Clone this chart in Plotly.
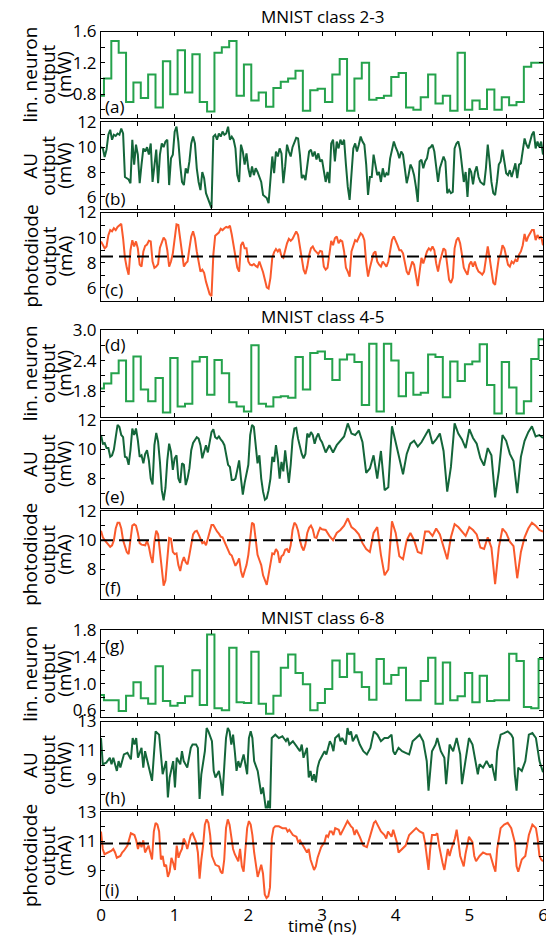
import numpy as np
import plotly.graph_objects as go

# ---------------- data ----------------
# Linear-neuron output: one level per 0.1 ns symbol (first short symbol 0-0.04 ns)
lin_23 = [0.78, 1.0, 1.48, 1.33, 0.7, 0.95, 0.75, 1.05, 0.63, 1.22, 0.8,
          1.36, 0.82, 1.31, 0.7, 0.58, 1.33, 1.4, 1.48, 0.78, 1.18,
          0.72, 0.82, 0.64, 0.88, 0.96, 1.0, 1.1, 0.59, 0.85, 0.87,
          0.7, 1.05, 1.25, 0.59, 1.0, 1.2, 0.73, 0.75, 0.78, 1.02,
          1.07, 0.63, 0.6, 0.76, 1.05, 0.68, 0.78, 0.59, 1.33, 0.6,
          0.72, 0.61, 0.86, 0.6, 0.76, 0.66, 0.7, 1.15, 1.2, 1.2]
lin_45 = [1.85, 1.95, 2.15, 2.4, 1.6, 2.48, 1.83, 1.6, 2.06, 1.38, 2.45,
          1.5, 1.55, 2.38, 2.47, 1.73, 2.41, 2.15, 1.58, 1.5, 1.4,
          2.7, 1.55, 1.5, 1.68, 1.7, 1.67, 2.47, 1.83, 2.55, 2.58,
          2.43, 2.02, 2.42, 2.52, 2.37, 1.53, 2.73, 1.4, 2.73, 2.4,
          1.7, 2.16, 1.73, 1.77, 2.52, 2.47, 1.68, 2.38, 2.0, 2.33,
          2.38, 2.72, 1.92, 1.36, 2.37, 1.87, 1.36, 1.6, 2.43, 2.82]
lin_68 = [0.83, 0.75, 0.75, 0.59, 0.82, 1.02, 0.78, 0.7, 1.26, 0.74, 0.67,
          0.71, 0.81, 1.2, 0.68, 1.74, 0.63, 0.6, 1.54, 0.72, 0.71,
          1.48, 0.7, 0.55, 0.82, 1.24, 1.44, 1.16, 0.99, 0.6, 0.71,
          0.92, 1.35, 1.1, 1.45, 1.17, 0.95, 0.76, 1.37, 1.0, 1.13,
          1.24, 0.75, 0.75, 1.04, 1.39, 0.7, 1.32, 0.75, 0.81, 1.16,
          0.72, 1.12, 0.74, 0.75, 0.75, 1.45, 1.34, 0.65, 0.63, 1.37]

# AU output / photodiode output: samples 0-3 ns ("early") and 3-6 ns ("late")
au_23_early = [10.0, 9.9, 9.2, 9.8, 11.0, 11.4, 10.6, 11.0, 10.9, 11.1,
               11.0, 11.5, 11.1, 7.6, 7.5, 7.4, 7.1, 10.6, 8.6, 10.2,
               9.4, 7.1, 8.6, 9.9, 9.65, 10.0, 9.4, 10.3, 7.2, 8.6,
               9.8, 7.1, 9.4, 10.3, 10.0, 10.45, 10.6, 6.95, 9.1, 9.4,
               11.25, 11.65, 10.45, 8.6, 7.2, 6.95, 8.3, 7.9, 8.85, 10.3,
               10.85, 10.3, 8.3, 7.2, 6.55, 8.0, 7.5, 6.3, 5.9, 5.5,
               5.1, 10.85, 11.0, 10.6, 11.1, 10.85, 11.25, 11.0, 11.1, 11.65,
               10.6, 10.85, 10.6, 9.9, 7.75, 7.2, 10.2, 9.65, 8.6, 9.5,
               8.3, 7.6, 8.45, 7.75, 8.3, 8.0, 7.6, 7.2, 6.15, 6.0,
               5.9, 5.5, 7.2, 9.25, 7.9, 9.65, 9.25, 9.9, 9.5, 7.1,
               8.45, 10.2, 9.65, 9.25, 10.0, 10.45, 10.75, 10.7, 9.4, 7.5,
               7.75, 7.35, 8.6, 9.65, 9.8, 9.25, 9.65, 9.0, 9.5, 8.85]
au_23_late = [9.0, 8.0, 7.2, 8.0, 7.1, 10.3, 10.6, 8.85, 10.45, 9.9,
              10.6, 10.2, 10.6, 8.6, 6.8, 5.75, 7.75, 9.9, 10.3, 9.65,
              10.2, 10.85, 10.45, 10.2, 8.6, 6.15, 7.6, 7.6, 9.4, 8.6,
              7.75, 8.0, 7.2, 8.3, 7.6, 7.9, 7.75, 9.1, 9.9, 10.45,
              10.0, 9.65, 9.1, 9.65, 9.4, 8.15, 7.1, 7.75, 8.6, 8.3,
              7.75, 6.8, 5.6, 8.85, 9.0, 8.3, 8.85, 9.1, 9.9, 10.0,
              10.2, 9.65, 8.15, 7.2, 8.3, 8.85, 9.25, 8.85, 6.3, 6.55,
              6.3, 6.4, 9.9, 10.3, 10.45, 9.8, 8.3, 7.2, 8.0, 6.0,
              8.3, 8.0, 7.0, 8.0, 8.45, 7.6, 7.2, 7.1, 6.95, 8.3,
              10.2, 8.85, 7.2, 6.3, 6.15, 7.2, 8.6, 8.85, 9.8, 8.85,
              7.9, 7.75, 8.15, 7.6, 8.15, 8.7, 7.5, 8.6, 8.7, 9.9,
              10.7, 10.2, 9.9, 10.45, 11.0, 11.25, 9.9, 10.45, 10.0, 10.45,
              9.4]
pd_23_early = [9.7, 9.4, 9.15, 9.3, 10.2, 10.6, 10.5, 10.75, 10.6, 10.85,
               11.0, 11.1, 9.95, 8.4, 7.6, 7.05, 9.0, 9.8, 9.3, 9.7,
               9.15, 7.85, 7.7, 8.9, 9.35, 9.45, 9.75, 9.7, 8.1, 7.6,
               7.7, 7.9, 9.2, 9.55, 10.0, 9.8, 9.0, 7.7, 8.1, 8.75,
               9.95, 11.05, 11.0, 9.95, 8.5, 7.7, 7.95, 8.1, 9.15, 10.1,
               10.5, 9.95, 8.9, 7.95, 7.3, 7.45, 7.2, 6.5, 5.95, 5.5,
               5.35, 8.65, 10.15, 10.3, 10.4, 10.7, 10.6, 10.75, 10.85, 10.8,
               10.95, 10.25, 9.5, 8.5, 7.6, 7.3, 9.4, 9.65, 9.15, 9.15,
               8.1, 7.85, 7.8, 7.9, 7.75, 7.65, 8.1, 7.7, 7.25, 6.65,
               6.05, 5.95, 6.8, 8.4, 8.85, 9.1, 8.9, 9.1, 8.5, 8.4,
               9.0, 9.55, 9.9, 9.75, 9.9, 10.2, 10.5, 10.2, 9.3, 8.1,
               7.45, 7.1, 7.7, 8.6, 9.15, 9.3, 9.0, 8.85, 8.7, 8.95]
pd_23_late = [8.9, 7.7, 7.45, 7.6, 8.65, 9.75, 9.4, 9.95, 10.1, 9.55,
              9.8, 9.7, 8.9, 7.6, 7.3, 6.9, 8.9, 9.4, 9.8, 9.7,
              10.1, 10.35, 10.2, 9.8, 8.0, 6.9, 7.6, 8.1, 8.75, 8.9,
              8.1, 7.85, 7.7, 8.1, 7.85, 7.7, 8.1, 8.9, 9.8, 10.1,
              9.8, 9.4, 9.0, 9.0, 8.75, 8.1, 7.3, 7.05, 7.7, 8.1,
              7.85, 6.8, 6.15, 7.3, 8.4, 7.95, 8.4, 8.9, 9.15, 9.0,
              9.3, 9.0, 7.95, 7.3, 8.1, 8.65, 9.15, 9.0, 7.6, 6.65,
              6.4, 6.8, 9.15, 9.8, 10.0, 9.55, 8.65, 7.6, 7.3, 7.05,
              7.85, 8.1, 7.7, 8.1, 7.6, 7.3, 7.2, 7.05, 7.3, 8.4,
              9.3, 8.4, 7.3, 6.4, 6.25, 7.3, 8.4, 8.65, 9.4, 9.15,
              8.4, 7.85, 7.7, 8.1, 7.95, 8.25, 8.1, 8.65, 8.9, 9.4,
              10.3, 9.7, 10.1, 10.35, 10.6, 10.6, 9.8, 10.2, 9.95, 10.1,
              9.4]

au_45_early = [11.0, 10.4, 10.45, 10.1, 10.1, 9.5, 9.6, 10.0, 10.85, 11.7,
               11.55, 11.0, 10.85, 9.5, 9.45, 8.95, 9.95, 11.45, 11.0, 11.45,
               10.65, 9.5, 9.6, 9.05, 9.7, 9.95, 9.25, 8.0, 7.6, 10.3,
               11.15, 10.55, 9.15, 7.2, 6.5, 7.35, 9.25, 10.4, 9.85, 8.6,
               9.4, 9.6, 8.0, 7.7, 9.05, 8.95, 7.55, 8.0, 8.7, 9.95,
               10.45, 10.7, 10.85, 10.75, 10.3, 9.4, 9.95, 10.3, 9.8, 10.4,
               11.2, 11.4, 10.85, 10.75, 10.9, 10.7, 10.55, 10.3, 9.5, 8.95,
               8.8, 7.9, 7.9, 8.0, 8.6, 9.25, 8.0, 6.9, 7.7, 8.35,
               8.95, 11.0, 11.7, 11.55, 10.5, 9.05, 9.6, 8.0, 7.1, 6.55,
               6.65, 7.2, 8.0, 9.5, 9.15, 10.3, 9.4, 8.0, 9.15, 8.5,
               9.95, 8.95, 7.7, 8.95, 10.65, 11.45, 11.5, 10.75, 10.1, 9.7,
               9.4, 9.7, 11.1, 10.85, 11.2, 11.0, 10.4, 10.85, 11.1, 10.7]
au_45_late = [10.5, 9.8, 10.3, 9.8, 10.3, 10.6, 10.9, 11.8, 11.1, 11.0,
              11.3, 10.5, 8.4, 8.7, 9.6, 8.0, 9.9, 7.2, 7.4, 11.6,
              10.5, 9.2, 8.3, 9.7, 10.4, 10.6, 10.2, 10.5, 11.0, 11.4,
              10.4, 10.7, 11.1, 9.9, 7.1, 8.8, 11.8, 11.1, 10.7, 10.1,
              11.4, 10.8, 10.4, 9.4, 8.9, 10.1, 9.6, 6.7, 8.5, 11.0,
              10.6, 9.7, 9.2, 7.0, 9.5, 10.6, 11.2, 11.6, 10.9, 11.0,
              10.8]
pd_45_early = [10.65, 10.2, 10.0, 9.85, 9.75, 9.55, 9.65, 10.0, 10.8, 11.2,
               11.2, 10.8, 10.0, 9.55, 9.2, 9.05, 9.9, 11.0, 11.1, 11.0,
               10.5, 9.8, 9.7, 9.7, 9.65, 9.95, 9.55, 8.9, 8.45, 9.9,
               10.65, 10.4, 9.2, 7.8, 6.9, 7.25, 9.0, 10.15, 10.1, 9.2,
               9.05, 9.1, 8.3, 7.9, 8.5, 8.85, 8.5, 8.35, 9.0, 9.85,
               10.4, 10.6, 10.65, 10.4, 10.05, 9.8, 9.9, 9.65, 10.1, 10.55,
               11.05, 11.05, 10.8, 10.6, 10.45, 10.25, 10.2, 9.9, 9.65, 9.4,
               9.05, 8.95, 8.6, 8.25, 8.45, 8.75, 7.9, 7.45, 7.9, 8.3,
               9.0, 10.35, 11.2, 11.1, 9.9, 9.0, 8.65, 8.3, 7.6, 7.2,
               6.95, 7.65, 8.4, 9.1, 9.05, 9.4, 9.2, 8.45, 8.9, 9.0,
               9.35, 9.4, 9.15, 9.65, 10.7, 11.2, 11.05, 10.65, 10.0, 9.55,
               9.3, 9.7, 10.5, 10.85, 11.0, 10.75, 10.2, 10.15, 10.55, 10.85]
pd_45_late = [10.75, 10.7, 10.3, 10.0, 10.5, 10.7, 11.0, 11.5, 10.9, 10.7,
              10.4, 9.8, 9.4, 9.2, 10.5, 10.9, 9.0, 7.6, 8.0, 11.3,
              10.5, 8.9, 8.7, 10.0, 10.5, 10.0, 9.2, 9.1, 10.6, 10.6,
              10.3, 10.8, 10.4, 9.5, 8.7, 10.2, 11.1, 10.9, 10.6, 10.3,
              10.9, 10.7, 10.4, 9.5, 9.4, 10.2, 9.5, 7.0, 9.5, 10.8,
              10.5, 9.9, 9.6, 7.4, 9.2, 10.2, 10.8, 11.2, 11.0, 10.7,
              10.6]

# class 6-8: traced points (time in ns, value)
au_68_t = [0.000, 0.024, 0.072, 0.120, 0.143, 0.167, 0.215, 0.239, 0.263, 0.311,
           0.359, 0.406, 0.430, 0.454, 0.478, 0.502, 0.550, 0.574, 0.598, 0.645,
           0.693, 0.741, 0.789, 0.813, 0.837, 0.884, 0.908, 0.932, 0.980, 1.004,
           1.028, 1.076, 1.099, 1.123, 1.171, 1.219, 1.243, 1.291, 1.315, 1.338,
           1.362, 1.410, 1.434, 1.458, 1.506, 1.530, 1.554, 1.601, 1.625, 1.649,
           1.697, 1.721, 1.745, 1.769, 1.793, 1.816, 1.840, 1.864, 1.888, 1.936,
           1.984, 2.008, 2.032, 2.055, 2.079, 2.127, 2.175, 2.199, 2.223, 2.247,
           2.271, 2.294, 2.318, 2.366, 2.414, 2.462, 2.510, 2.533, 2.557, 2.605,
           2.653, 2.701, 2.725, 2.749, 2.796, 2.820, 2.844, 2.868, 2.892, 2.916,
           2.940, 2.964, 2.988, 3.035, 3.059, 3.083, 3.107, 3.131, 3.155, 3.179,
           3.227, 3.250, 3.274, 3.322, 3.346, 3.370, 3.394, 3.418, 3.442, 3.466,
           3.513, 3.561, 3.609, 3.657, 3.705, 3.752, 3.800, 3.848, 3.896, 3.944,
           3.967, 3.991, 4.039, 4.087, 4.135, 4.183, 4.207, 4.230, 4.278, 4.326,
           4.374, 4.422, 4.446, 4.469, 4.493, 4.541, 4.565, 4.613, 4.661, 4.685,
           4.708, 4.732, 4.780, 4.828, 4.876, 4.900, 4.947, 4.995, 5.043, 5.091,
           5.115, 5.139, 5.186, 5.234, 5.282, 5.306, 5.354, 5.378, 5.425, 5.473,
           5.521, 5.569, 5.593, 5.617, 5.641, 5.664, 5.712, 5.760, 5.808, 5.856,
           5.904, 5.952, 6.000]
au_68_v = [11.86, 10.05, 10.16, 10.5, 10.05, 10.5, 9.59, 10.27, 9.82, 10.73,
           10.84, 10.39, 11.86, 11.41, 11.86, 10.5, 11.18, 9.82, 10.95, 9.82,
           8.91, 12.32, 12.09, 10.73, 9.36, 10.27, 7.77, 9.14, 10.27, 8.45,
           10.5, 10.05, 10.95, 10.27, 9.82, 11.18, 11.41, 11.41, 11.18, 7.66,
           9.36, 10.95, 12.55, 12.32, 11.64, 9.59, 9.14, 9.59, 8.91, 7.89,
           11.86, 12.55, 12.32, 11.41, 12.09, 10.95, 9.59, 10.27, 9.82, 10.73,
           9.36, 11.86, 12.32, 11.86, 10.27, 9.59, 8.0, 8.45, 7.09, 6.64,
           7.55, 6.86, 11.86, 12.09, 11.86, 11.98, 11.64, 11.86, 11.41, 11.64,
           11.3, 10.95, 11.41, 10.5, 11.18, 9.14, 9.59, 8.91, 9.36, 8.8,
           9.82, 10.27, 10.5, 10.95, 10.73, 11.18, 11.64, 11.41, 10.95, 11.86,
           12.09, 11.64, 11.86, 11.41, 12.55, 12.09, 12.32, 11.64, 11.86, 12.09,
           11.41, 10.95, 10.73, 11.18, 12.32, 12.09, 11.64, 11.86, 11.86, 12.09,
           10.95, 10.73, 11.18, 10.95, 10.84, 10.73, 11.18, 11.64, 11.86, 12.09,
           11.64, 10.27, 8.23, 9.82, 10.95, 11.41, 11.86, 10.95, 10.5, 8.68,
           9.82, 11.41, 10.95, 11.86, 10.73, 8.68, 10.27, 11.86, 11.41, 9.82,
           9.36, 10.05, 9.82, 10.27, 9.82, 10.05, 8.91, 10.95, 12.09, 12.2,
           12.32, 12.09, 11.86, 9.36, 8.23, 9.82, 9.59, 10.27, 12.09, 12.2,
           11.86, 10.27, 9.5]

pd_68_t = [0.000, 0.024, 0.048, 0.096, 0.143, 0.167, 0.191, 0.215, 0.263, 0.287,
           0.311, 0.359, 0.406, 0.454, 0.478, 0.502, 0.526, 0.550, 0.574, 0.598,
           0.645, 0.693, 0.717, 0.741, 0.765, 0.789, 0.813, 0.837, 0.860, 0.884,
           0.908, 0.932, 0.956, 0.980, 1.004, 1.028, 1.052, 1.076, 1.099, 1.123,
           1.147, 1.171, 1.219, 1.243, 1.291, 1.315, 1.338, 1.362, 1.386, 1.410,
           1.434, 1.458, 1.482, 1.506, 1.530, 1.554, 1.601, 1.625, 1.649, 1.673,
           1.697, 1.721, 1.745, 1.769, 1.793, 1.816, 1.864, 1.888, 1.912, 1.936,
           1.960, 1.984, 2.008, 2.032, 2.055, 2.079, 2.127, 2.151, 2.175, 2.199,
           2.223, 2.247, 2.271, 2.294, 2.318, 2.342, 2.366, 2.414, 2.462, 2.510,
           2.533, 2.557, 2.605, 2.653, 2.677, 2.701, 2.749, 2.796, 2.820, 2.844,
           2.868, 2.892, 2.916, 2.940, 2.988, 3.035, 3.059, 3.083, 3.107, 3.131,
           3.155, 3.179, 3.227, 3.250, 3.298, 3.346, 3.394, 3.418, 3.442, 3.466,
           3.513, 3.537, 3.561, 3.609, 3.657, 3.705, 3.728, 3.752, 3.800, 3.848,
           3.872, 3.896, 3.944, 3.967, 3.991, 4.015, 4.039, 4.087, 4.135, 4.183,
           4.230, 4.278, 4.326, 4.374, 4.398, 4.422, 4.446, 4.469, 4.493, 4.541,
           4.565, 4.589, 4.613, 4.637, 4.661, 4.708, 4.732, 4.756, 4.804, 4.828,
           4.852, 4.876, 4.900, 4.924, 4.947, 4.995, 5.043, 5.067, 5.091, 5.139,
           5.186, 5.234, 5.282, 5.306, 5.330, 5.354, 5.378, 5.425, 5.473, 5.521,
           5.569, 5.617, 5.641, 5.664, 5.688, 5.712, 5.760, 5.808, 5.856, 5.904,
           5.927, 5.952, 5.975, 6.000]
pd_68_v = [11.67, 10.48, 10.12, 10.24, 10.36, 10.48, 10.24, 9.88, 10.0, 10.24,
           10.36, 10.71, 11.55, 11.43, 11.07, 10.48, 10.95, 10.6, 11.07, 10.24,
           10.71, 9.76, 11.67, 12.26, 12.14, 11.67, 9.76, 10.0, 9.29, 9.4,
           8.57, 8.93, 9.88, 9.52, 9.05, 10.71, 9.88, 10.24, 10.48, 11.19,
           10.95, 10.48, 11.43, 11.55, 10.95, 10.24, 8.45, 9.76, 10.71, 12.14,
           12.5, 12.26, 11.43, 10.0, 9.64, 9.4, 9.29, 8.93, 8.81, 9.76,
           11.9, 12.5, 12.14, 11.43, 10.48, 10.12, 9.64, 10.48, 9.29, 8.93,
           10.24, 11.9, 12.38, 12.14, 11.43, 10.24, 8.57, 9.05, 9.4, 8.81,
           7.38, 7.14, 7.26, 7.86, 11.19, 11.9, 12.02, 12.02, 11.9, 11.9,
           11.67, 11.79, 11.43, 11.31, 10.95, 11.07, 10.6, 10.24, 10.48, 9.76,
           9.4, 9.05, 9.29, 9.88, 10.6, 10.95, 11.43, 11.31, 11.67, 11.67,
           11.43, 11.9, 11.79, 11.43, 11.9, 12.38, 12.02, 11.9, 11.43, 11.79,
           11.31, 10.95, 10.71, 10.6, 11.43, 12.26, 12.38, 12.14, 11.67, 11.43,
           11.19, 11.67, 11.31, 11.79, 11.43, 10.95, 10.24, 10.48, 10.71, 11.43,
           11.67, 11.9, 11.67, 11.55, 10.95, 9.76, 9.05, 10.48, 11.43, 11.43,
           11.55, 10.71, 10.0, 9.52, 9.05, 10.48, 10.0, 10.48, 11.19, 11.79,
           10.95, 10.0, 9.64, 9.29, 10.12, 11.31, 10.95, 10.0, 9.64, 10.0,
           10.24, 10.12, 10.12, 9.64, 9.29, 8.93, 10.48, 11.9, 12.14, 12.26,
           11.9, 10.95, 9.29, 8.93, 9.4, 9.76, 10.0, 11.43, 12.14, 11.9,
           11.19, 10.0, 9.76, 9.64]

thresholds = [8.5, 10.0, 10.85]          # dashed decision levels (mA)
group_titles = ["MNIST class 2-3", "MNIST class 4-5", "MNIST class 6-8"]
panel_letters = ["(a)", "(b)", "(c)", "(d)", "(e)", "(f)", "(g)", "(h)", "(i)"]
y_titles = [["lin. neuron", "output", "(mW)"],
            ["AU", "output", "(mW)"],
            ["photodiode", "output", "(mA)"]]
x_tick_vals = [0, 1, 2, 3, 4, 5, 6]

# y-axis settings per panel: range, labelled ticks, unlabelled ticks
y_ranges = [[0.5, 1.6], [5, 12], [5, 12], [1.3, 3.0], [6, 12], [6, 12],
            [0.5, 1.8], [7, 13], [7, 13]]
y_major = [[0.8, 1.2, 1.6], [6, 8, 10, 12], [6, 8, 10, 12],
           [1.8, 2.4, 3.0], [8, 10, 12], [8, 10, 12],
           [0.6, 1.0, 1.4, 1.8], [9, 11, 13], [9, 11, 13]]
y_minor = [[0.6, 1.0, 1.4], [5, 7, 9, 11], [5, 7, 9, 11],
           [1.5, 2.1, 2.7], [7, 9, 11], [7, 9, 11],
           [0.8, 1.2, 1.6], [8, 10, 12], [8, 10, 12]]
y_fmt = ["{:.1f}", "{:g}", "{:g}", "{:.1f}", "{:g}", "{:g}", "{:.1f}", "{:g}", "{:g}"]

# ---------------- helpers ----------------
def step_xy(levels):
    edges = [0.0] + [round(0.04 + 0.1 * n, 3) for n in range(len(levels) - 1)]
    return edges + [6.0], list(levels) + [levels[-1]]

def timebase(early, late):
    t1 = np.linspace(0, 3, len(early) + 1)[:-1]
    t2 = np.linspace(3, 6, len(late))
    return np.concatenate([t1, t2]), list(early) + list(late)

# ---------------- layout geometry (page pixels; page body has an 8 px margin) ----------------
OFF = 8
W, H = 554 - OFF, 935 - OFF
XL, XR = 101 - OFF, 543 - OFF
panel_px = [(31.5, 117.7), (122.3, 209.3), (212.5, 300.5),
            (330.0, 416.6), (420.5, 507.6), (511.0, 598.7),
            (630.4, 717.0), (721.5, 808.5), (812.0, 900.0)]
panel_px = [(a - OFF, b - OFF) for a, b in panel_px]
title_px = [17 - OFF, 317 - OFF, 617 - OFF]

C_LIN = "#25A24C"
C_AU = "#14663A"
C_PD = "#FA5A2C"
FONT = "Open Sans"

fig = go.Figure()

lin_sets = [lin_23, lin_45, lin_68]
au_series = [timebase(au_23_early, au_23_late), timebase(au_45_early, au_45_late),
             (au_68_t, au_68_v)]
pd_series = [timebase(pd_23_early, pd_23_late), timebase(pd_45_early, pd_45_late),
             (pd_68_t, pd_68_v)]

for g in range(3):
    base = 3 * g
    xs, ys = step_xy(lin_sets[g])
    fig.add_trace(go.Scatter(x=xs, y=ys, mode="lines", line=dict(color=C_LIN, width=2, shape="hv"),
                             xaxis=f"x{base+1}", yaxis=f"y{base+1}", showlegend=False))
    t, v = au_series[g]
    fig.add_trace(go.Scatter(x=t, y=v, mode="lines", line=dict(color=C_AU, width=2),
                             xaxis=f"x{base+2}", yaxis=f"y{base+2}", showlegend=False))
    t, v = pd_series[g]
    fig.add_trace(go.Scatter(x=t, y=v, mode="lines", line=dict(color=C_PD, width=2),
                             xaxis=f"x{base+3}", yaxis=f"y{base+3}", showlegend=False))
    fig.add_trace(go.Scatter(x=[0, 6], y=[thresholds[g]] * 2, mode="lines",
                             line=dict(color="black", width=2, dash="12px,6px"),
                             xaxis=f"x{base+3}", yaxis=f"y{base+3}", showlegend=False))

layout = dict(width=W, height=H, margin=dict(l=0, r=0, t=0, b=0),
              paper_bgcolor="white", plot_bgcolor="white",
              font=dict(family=FONT, size=17, color="black"), showlegend=False)

xtv = [i * 0.5 for i in range(13)]
for i in range(9):
    top, bot = panel_px[i]
    dom_y = [1 - bot / H, 1 - top / H]
    last = (i == 8)
    layout[f"xaxis{i+1}"] = dict(
        domain=[XL / W, XR / W], range=[0, 6], anchor=f"y{i+1}",
        showline=True, linecolor="black", linewidth=1, mirror="ticks",
        ticks="inside", ticklen=4, tickwidth=1, tickcolor="black",
        tickvals=xtv,
        ticktext=[(str(int(v)) if (v in x_tick_vals) else "") for v in xtv],
        showticklabels=last, showgrid=False, zeroline=False,
        tickfont=dict(size=17), automargin=False)
    tv = y_major[i] + y_minor[i]
    tt = [y_fmt[i].format(v) for v in y_major[i]] + [""] * len(y_minor[i])
    layout[f"yaxis{i+1}"] = dict(
        domain=dom_y, range=y_ranges[i], anchor=f"x{i+1}",
        showline=True, linecolor="black", linewidth=1, mirror="ticks",
        ticks="inside", ticklen=4, tickwidth=1, tickcolor="black",
        tickvals=tv, ticktext=tt, showgrid=False, zeroline=False,
        tickfont=dict(size=17), automargin=False)

ann = []
for g in range(3):
    ann.append(dict(text=group_titles[g], x=(XL + XR) / 2 / W, y=1 - title_px[g] / H,
                    xref="paper", yref="paper", showarrow=False,
                    xanchor="center", yanchor="middle", font=dict(size=17)))
for i in range(9):
    top, bot = panel_px[i]
    yc = 1 - (top + bot) / 2 / H
    lines = y_titles[i % 3]
    for xpx, txt in zip([30 - OFF, 48 - OFF, 64 - OFF], lines):
        ann.append(dict(text=txt, x=xpx / W, y=yc, xref="paper", yref="paper",
                        showarrow=False, textangle=-90, xanchor="center", yanchor="middle",
                        font=dict(size=19)))
    if i % 3 == 0 and i > 0:
        ly = 1 - (top + 15) / H
    else:
        ly = 1 - (bot - 11) / H
    ann.append(dict(text=panel_letters[i], x=(103 - OFF) / W, y=ly, xref="paper", yref="paper",
                    showarrow=False, xanchor="left", yanchor="middle", font=dict(size=17)))
ann.append(dict(text="time (ns)", x=(XL + XR) / 2 / W, y=1 - (925 - OFF) / H,
                xref="paper", yref="paper",
                showarrow=False, xanchor="center", yanchor="middle", font=dict(size=17)))
layout["annotations"] = ann

fig.update_layout(**layout)
fig.write_html("out.html")
